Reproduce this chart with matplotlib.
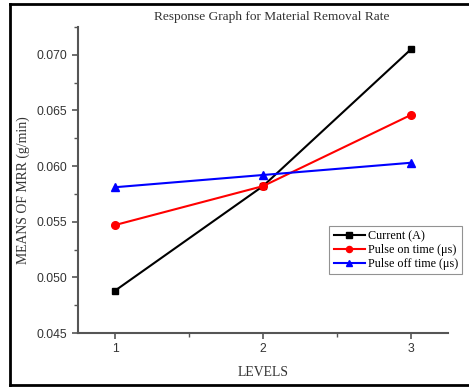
import matplotlib
matplotlib.use("Agg")
import matplotlib.pyplot as plt
from matplotlib.lines import Line2D
from matplotlib.ticker import MultipleLocator, FormatStrFormatter

# data
levels = [1, 2, 3]
current = [0.0488, 0.0582, 0.0705]
pulse_on = [0.0547, 0.0582, 0.0646]
pulse_off = [0.0581, 0.0592, 0.0603]
series_labels = ["Current (A)", "Pulse on time (\u03bcs)", "Pulse off time (\u03bcs)"]

W, H = 469, 389
fig = plt.figure(figsize=(W / 100, H / 100), dpi=100)
ax = fig.add_axes([78 / W, 1 - 333 / H, (448 - 78) / W, (333 - 27) / H])

serif = ["Liberation Serif", "DejaVu Serif"]
sans = ["Liberation Sans", "DejaVu Sans"]

ax.plot(levels, current, color="black", marker="s", ms=5, lw=1.5, label=series_labels[0])
ax.plot(levels, pulse_on, color="red", marker="o", ms=5.5, lw=1.5, label=series_labels[1])
ax.plot(levels, pulse_off, color="blue", marker="^", ms=6, lw=1.5, label=series_labels[2])

ax.set_xlim(0.75, 3.25)
ax.set_ylim(0.045, 0.0725)
ax.xaxis.set_major_locator(MultipleLocator(1))
ax.xaxis.set_minor_locator(MultipleLocator(0.5))
ax.yaxis.set_major_locator(MultipleLocator(0.005))
ax.yaxis.set_minor_locator(MultipleLocator(0.0025))
ax.yaxis.set_major_formatter(FormatStrFormatter("%.3f"))

spine_col = "#555555"
for s in ["top", "right"]:
    ax.spines[s].set_visible(False)
for s in ["left", "bottom"]:
    ax.spines[s].set_color(spine_col)
    ax.spines[s].set_linewidth(1.5)
ax.tick_params(which="major", direction="out", length=4, width=1.2, color=spine_col,
               labelsize=8.8, labelcolor="#333333")
ax.tick_params(which="minor", direction="out", length=3, width=1.0, color=spine_col)
for lbl in ax.get_xticklabels() + ax.get_yticklabels():
    lbl.set_family(sans)

fig.text(272 / W, 1 - 17 / H, "Response Graph for Material Removal Rate",
         ha="center", va="center", family=serif, fontsize=9.6, color="#333333")
fig.text(23 / W, 1 - 190 / H, "MEANS OF MRR (g/min)", rotation=90,
         ha="center", va="center", family=serif, fontsize=9.9, color="#333333")
fig.text(263 / W, 1 - 372 / H, "LEVELS", ha="center", va="center",
         family=serif, fontsize=9.9, color="#333333")

leg = fig.legend(loc="upper right", bbox_to_anchor=(462 / W, 1 - 226 / H),
                 prop={"family": serif, "size": 8.7}, frameon=True, fancybox=False,
                 handlelength=2.6, handletextpad=0.2, borderpad=0.35, labelspacing=0.15,
                 borderaxespad=0, markerscale=0.8)
leg.get_frame().set_edgecolor("#777777")
leg.get_frame().set_linewidth(0.8)

# outer frame of the scanned figure (left, top, bottom only)
fig.add_artist(Line2D([10 / W, 10 / W], [1 - 4 / H, 1 - 385 / H], color="black", lw=2,
                      transform=fig.transFigure))
fig.add_artist(Line2D([10 / W, 1], [1 - 4 / H, 1 - 4 / H], color="black", lw=2,
                      transform=fig.transFigure))
fig.add_artist(Line2D([10 / W, 1], [1 - 385 / H, 1 - 385 / H], color="black", lw=2,
                      transform=fig.transFigure))

fig.savefig("out.png", dpi=100)
